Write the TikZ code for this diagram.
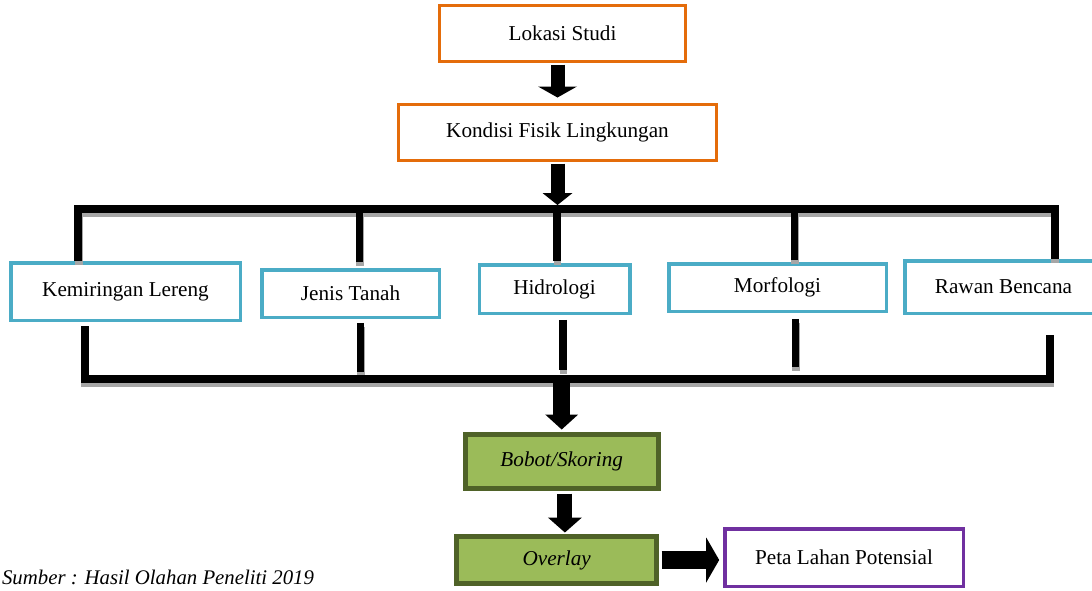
\documentclass[tikz,border=0pt]{standalone}
\usepackage{fontspec}
\setmainfont{Liberation Serif}
\usetikzlibrary{arrows.meta, calc}

\definecolor{boxorange}{HTML}{E46C0A}
\definecolor{boxblue}{HTML}{4BACC6}
\definecolor{greenfill}{HTML}{9BBB59}
\definecolor{greenedge}{HTML}{4F6228}
\definecolor{boxpurple}{HTML}{7030A0}
\definecolor{shadowgray}{HTML}{A6A6A6}

% all bar lines, drawn once as shadow and once in black
\newcommand{\barlines}[1]{
	\draw[bar, #1] (kemiringan.north -| tl) -- (tl) -- (tr) -- (rawan.north -| tr);
	\draw[bar, #1, shorten <=2pt, shorten >=10pt] (kemiringan.south -| bl) -- (bl) -- (br) -- (rawan.south -| br);

	\draw[drop, #1, shorten <=2.9pt] ([xshift=4.5pt]jenis.north) -- ([xshift=4.5pt]jenis.north |- tl);
	\draw[drop, #1, shorten <=0.9pt] ([xshift=1.25pt]hidrologi.north) -- ([xshift=1.25pt]hidrologi.north |- tl);
	\draw[drop, #1, shorten <=0.9pt] ([xshift=8.5pt]morfologi.north) -- ([xshift=8.5pt]morfologi.north |- tl);

	\draw[drop, #1, shorten <=1.9pt, shorten >=3.5pt] ([xshift=5pt]jenis.south) -- ([xshift=5pt]jenis.south |- bl);
	\draw[drop, #1, shorten <=2.4pt, shorten >=4.5pt] ([xshift=4.25pt]hidrologi.south) -- ([xshift=4.25pt]hidrologi.south |- bl);
	\draw[drop, #1, shorten <=2.9pt, shorten >=6pt] ([xshift=9pt]morfologi.south) -- ([xshift=9pt]morfologi.south |- bl);
}

\begin{document}
\begin{tikzpicture}[x=0.5pt, y=-0.5pt, font=\fontsize{10.6pt}{12.7pt}\selectfont,
	box/.style={rectangle, inner sep=0pt, align=center, fill=white},
	orangebox/.style={box, draw=boxorange, line width=1.5pt},
	bluebox/.style={box, draw=boxblue, line width=1.75pt},
	greenbox/.style={box, draw=greenedge, fill=greenfill, line width=2.5pt, font=\fontsize{10.6pt}{12.7pt}\selectfont\itshape},
	purplebox/.style={box, draw=boxpurple, line width=1.75pt},
	bar/.style={line width=4pt, line join=miter},
	drop/.style={bar, line width=3.75pt},
	blockarrow/.style n args={3}{line width=#1, -{Triangle[width=#2, length=#3, line width=0pt]}}]

	\useasboundingbox (0,0) rectangle (1092,590);
	\clip (0,0) rectangle (1092,590);

	% boxes
	\node[orangebox, minimum width=123pt, minimum height=28pt] (lokasi) at (562.5,33.5) {Lokasi Studi};
	\node[orangebox, minimum width=159pt, minimum height=28pt] (kondisi) at (557.5,132.5) {Kondisi Fisik Lingkungan};

	\node[bluebox, minimum width=114.75pt, minimum height=28.75pt] (kemiringan) at (125.5,291.5) {Kemiringan Lereng};
	\node[bluebox, minimum width=88.75pt, minimum height=23.75pt] (jenis) at (350.5,293.5) {Jenis Tanah};
	\node[bluebox, minimum width=75.25pt, minimum height=24.25pt] (hidrologi) at (554.5,289) {Hidrologi};
	\node[bluebox, minimum width=108.75pt, minimum height=23.75pt] (morfologi) at (777.5,287.5) {Morfologi};
	\node[bluebox, minimum width=98.75pt, minimum height=26.25pt] (rawan) at (1003.5,287) {Rawan Bencana};

	\node[greenbox, minimum width=96.5pt, minimum height=27pt] (bobot) at (561.7,461.7) {Bobot/Skoring};
	\node[greenbox, minimum width=100pt, minimum height=23.5pt] (overlay) at (556.7,560) {Overlay};
	\node[purplebox, minimum width=119.25pt, minimum height=28.75pt] (peta) at (844,557.5) {Peta Lahan Potensial};

	\node[anchor=west, font=\fontsize{10.4pt}{12.7pt}\selectfont\itshape] (sumber) at (-5,577) {Sumber : Hasil Olahan Peneliti 2019};

	% bars
	\coordinate (tl) at (78,209);
	\coordinate (tr) at (1054.5,209);
	\coordinate (bl) at (84.5,379);
	\coordinate (br) at (1049.5,379);

	\begin{scope}[transform canvas={xshift=0.3pt, yshift=-2pt}]
		\barlines{shadowgray}
	\end{scope}
	\barlines{black}

	% arrows
	\draw[blockarrow={7pt}{19.5pt}{5.5pt}, shorten <=0.75pt, shorten >=2.75pt] (lokasi.south -| kondisi.north) -- (kondisi.north);
	\draw[blockarrow={7pt}{15pt}{6pt}, shorten <=0.75pt, shorten >=2pt] (kondisi.south) -- (kondisi.south |- tl);
	\draw[blockarrow={8.5pt}{16.5pt}{7.5pt}, shorten >=1.35pt] (bl -| bobot.north) -- (bobot.north);
	\draw[blockarrow={7.5pt}{17pt}{7.5pt}, shorten <=1.2pt, shorten >=0.75pt] ([xshift=1.6pt]bobot.south) -- ([xshift=1.6pt]bobot.south |- overlay.north);
	\draw[blockarrow={9pt}{22.5pt}{6.5pt}, shorten <=1.2pt, shorten >=1.9pt] (overlay.east) -- (overlay.east -| peta.west);
\end{tikzpicture}
\end{document}
